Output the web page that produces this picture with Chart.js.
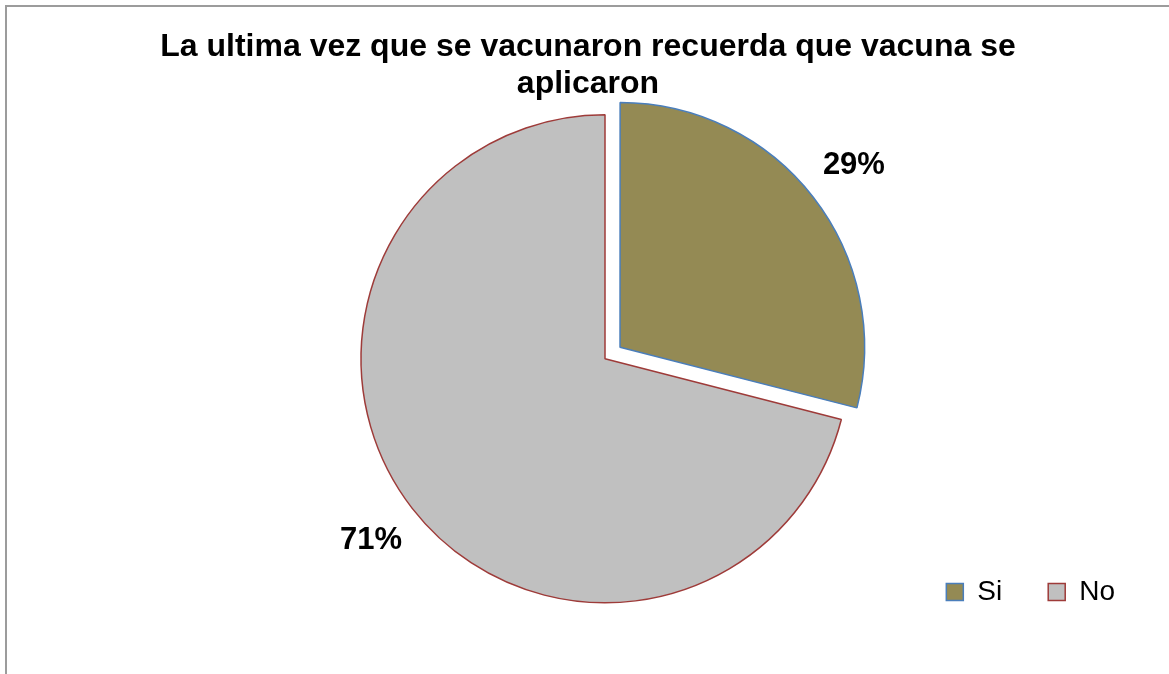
<!DOCTYPE html>
<html lang="es">

<head>
    <meta charset="UTF-8">
    <title>Vacuna aplicada</title>
    <script src="https://cdn.jsdelivr.net/npm/chart.js"></script>
    <style>
        body { margin: 0; background: #fff; overflow: hidden; }
        #wrap { position: relative; width: 1169px; height: 674px; }
        /* chart frame: only the left and top edges are visible in the picture */
        #frame {
            position: absolute; left: 5px; top: 5px; width: 1300px; height: 800px;
            border-left: 2px solid #9c9c9c; border-top: 2px solid #9c9c9c;
            pointer-events: none;
        }
    </style>
</head>

<body>
    <div id="wrap">
        <canvas id="pieChart" width="1169" height="674"></canvas>
        <div id="frame"></div>
    </div>

    <script>
        // Chart data
        const chartTitle = ['La ultima vez que se vacunaron recuerda que vacuna se', 'aplicaron'];
        const categories = ['Si', 'No'];
        const percentages = [29, 71];

        const fillColors = ['#948A54', '#C0C0C0'];
        const edgeColors = ['#4A7EBB', '#9E3B39'];

        const fontFamily = '"Liberation Sans", Arial, sans-serif';

        // Percent labels just outside each slice
        const outsideLabels = {
            id: 'outsideLabels',
            afterDatasetsDraw(chart) {
                const ctx = chart.ctx;
                const meta = chart.getDatasetMeta(0);
                const values = chart.data.datasets[0].data;
                const total = values.reduce((a, b) => a + b, 0);
                ctx.save();
                ctx.font = 'bold 31px ' + fontFamily;
                ctx.fillStyle = '#000';
                ctx.textAlign = 'center';
                ctx.textBaseline = 'middle';
                meta.data.forEach((arc, i) => {
                    const mid = (arc.startAngle + arc.endAngle) / 2;
                    const shift = (arc.options.offset || 0) / 4;
                    const dist = shift + arc.outerRadius + 52;
                    const x = arc.x + Math.cos(mid) * dist;
                    const y = arc.y + Math.sin(mid) * dist;
                    ctx.fillText(Math.round(values[i] / total * 100) + '%', x, y);
                });
                ctx.restore();
            }
        };

        Chart.defaults.color = '#000';
        Chart.defaults.font.family = fontFamily;

        new Chart(document.getElementById('pieChart'), {
            type: 'pie',
            data: {
                labels: categories,
                datasets: [{
                    data: percentages,
                    backgroundColor: fillColors,
                    borderColor: edgeColors,
                    borderWidth: 1.5,
                    offset: [76, 0],   // Si slice pulled out
                    radius: 244,
                    clip: false
                }]
            },
            options: {
                responsive: false,
                animation: false,
                layout: {
                    padding: { left: 15, right: 8, top: 10, bottom: 58 }
                },
                plugins: {
                    title: {
                        display: true,
                        text: chartTitle,
                        font: { size: 32, weight: 'bold', lineHeight: 1.15 },
                        padding: { top: 19, bottom: 83 }
                    },
                    // empty left box, only to move the pie right of the title centre
                    subtitle: {
                        display: true,
                        position: 'left',
                        text: '',
                        font: { size: 10 },
                        padding: { top: 11, bottom: 11 }
                    },
                    legend: {
                        position: 'bottom',
                        align: 'end',
                        labels: {
                            boxWidth: 17,
                            boxHeight: 17,
                            padding: 46,
                            font: { size: 28 }
                        }
                    },
                    tooltip: { enabled: false }
                }
            },
            plugins: [outsideLabels]
        });
    </script>
</body>

</html>
